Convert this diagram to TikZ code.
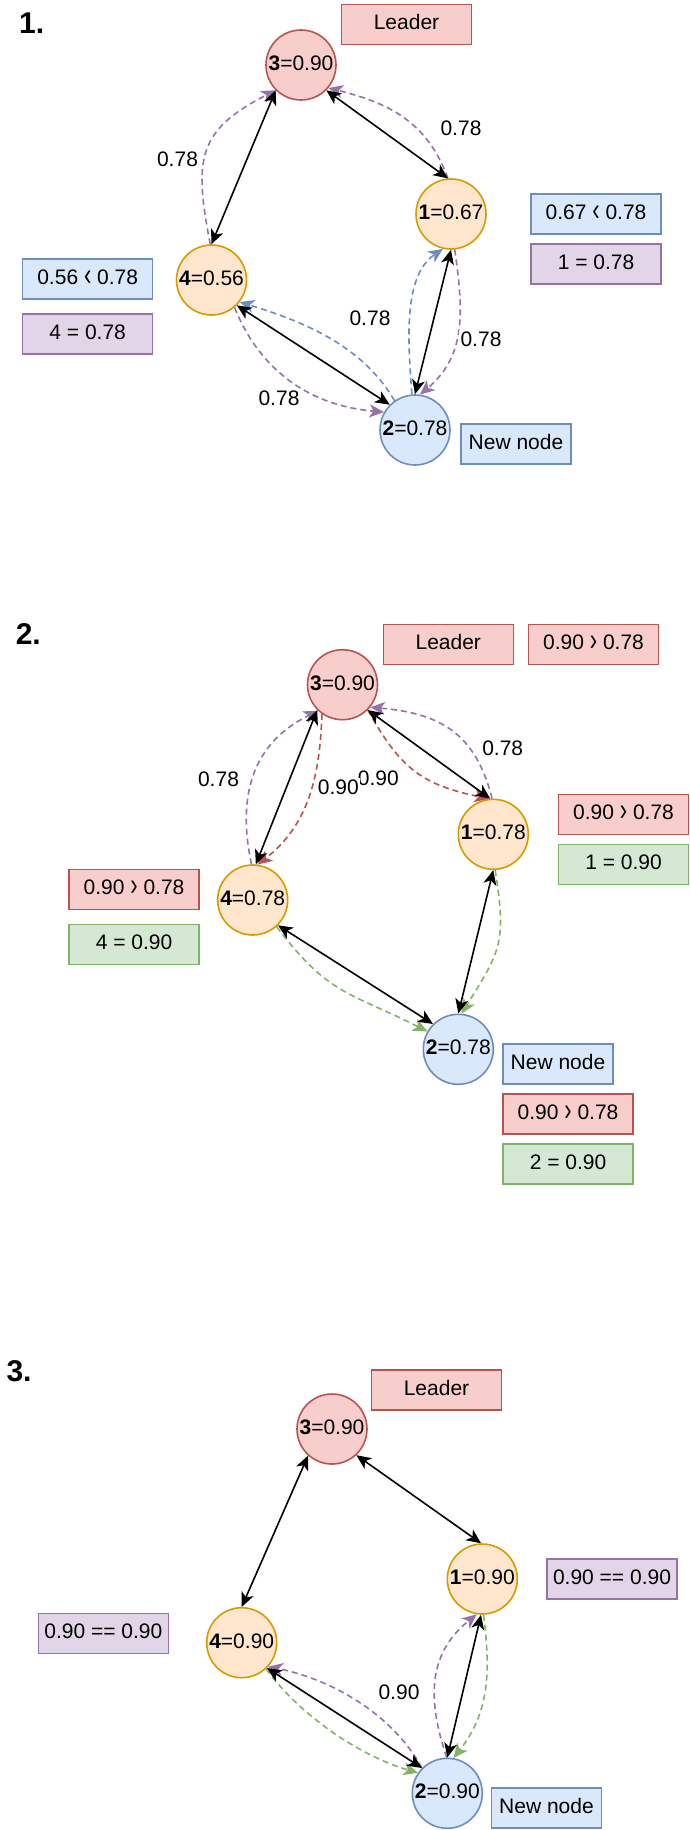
\documentclass[tikz,border=0pt]{standalone}
\usepackage{fontspec}
\setmainfont{Liberation Sans}
\usetikzlibrary{arrows.meta}
\definecolor{redF}{HTML}{F8CECC}\definecolor{redS}{HTML}{B85450}
\definecolor{orF}{HTML}{FFE6CC}\definecolor{orS}{HTML}{D79B00}
\definecolor{blF}{HTML}{DAE8FC}\definecolor{blS}{HTML}{6C8EBF}
\definecolor{puF}{HTML}{E1D5E7}\definecolor{puS}{HTML}{9673A6}
\definecolor{grF}{HTML}{D5E8D4}\definecolor{grS}{HTML}{82B366}
\newcommand{\ltg}{\raisebox{-1.5pt}{\scalebox{1.05}[1.5]{‹}}}
\newcommand{\gtg}{\raisebox{-1.5pt}{\scalebox{1.05}[1.5]{›}}}
\begin{document}
\begin{tikzpicture}[x=1pt,y=1pt,font=\fontsize{21}{25}\selectfont,
  peer/.style={circle,minimum size=70pt,inner sep=0pt,line width=1.6pt,text height=15pt,text depth=4pt},
  rednode/.style={peer,draw=redS,fill=redF},
  ornode/.style={peer,draw=orS,fill=orF},
  bluenode/.style={peer,draw=blS,fill=blF},
  tag/.style={rectangle,minimum width=130pt,minimum height=40pt,inner sep=0pt,line width=1.2pt,text height=15pt,text depth=5pt},
  redtag/.style={tag,draw=redS,fill=redF},
  bluetag/.style={tag,draw=blS,fill=blF},
  purptag/.style={tag,draw=puS,fill=puF},
  greentag/.style={tag,draw=grS,fill=grF},
  newtag/.style={tag,minimum width=110pt,draw=blS,fill=blF},
  lbl/.style={fill=white,inner sep=1.5pt,text height=15pt,text depth=0pt},
  heading/.style={font=\fontsize{30}{36}\selectfont\bfseries,anchor=base west,inner sep=0pt},
  link/.style={line width=1.6pt,{Stealth[length=14.5pt,width=13pt,inset=4pt]}-{Stealth[length=14.5pt,width=13pt,inset=4pt]}},
  msg/.style={line width=1.6pt,dash pattern=on 6pt off 4pt,-{Stealth[length=14.5pt,width=13pt,inset=4pt]}}]
\fill[white] (0,0) rectangle (689,-1830);
\useasboundingbox (0,0) rectangle (689,-1830);

% ---------------- Panel 1 ----------------
\node[heading] (h1) at (19,-33.3) {1.};
\node[rednode] (a3) at (301,-65) {\textbf{3}=0.90};
\node[ornode] (a1) at (451,-214) {\textbf{1}=0.67};
\node[ornode] (a4) at (211.5,-280) {\textbf{4}=0.56};
\node[bluenode] (a2) at (415,-430) {\textbf{2}=0.78};
\node[redtag] (a3t) at (406.5,-24.3) {Leader};
\node[bluetag] (a1c) at (596,-214) {0.67 \ltg{} 0.78};
\node[purptag] (a1v) at (596,-264) {1 = 0.78};
\node[bluetag] (a4c) at (87.7,-279) {0.56 \ltg{} 0.78};
\node[purptag] (a4v) at (87.7,-334) {4 = 0.78};
\node[newtag] (a2t) at (516,-444) {New node};

\draw[msg,puS] (a4.92) to[out=101,in=207,looseness=1.34] (a3.225);
\draw[msg,puS] (a1.95) to[out=110,in=346,looseness=1.04] (a3.320);
\draw[msg,puS] (a1.276) to[out=278,in=40,looseness=1.05] (a2.82);
\draw[msg,puS] (a4.310) to[out=292,in=175,looseness=1.0] (a2.150);
\draw[msg,blS] (a2.95) to[out=94,in=214,looseness=0.85] (a1.257);
\draw[msg,blS] (a2.125) to[out=120,in=343,looseness=0.9] (a4.322);
\draw[link] (a3.315) -- (a1.95);
\draw[link] (a3.225) -- (a4.90);
\draw[link] (a1.270) -- (a2.90);
\draw[link] (a4.315) -- (a2.135);

\node[lbl] (a43l) at (177.5,-159) {0.78};
\node[lbl] (a13l) at (461,-127.7) {0.78};
\node[lbl] (a21l) at (370,-318.3) {0.78};
\node[lbl] (a12l) at (481,-339.3) {0.78};
\node[lbl] (a42l) at (279,-397.7) {0.78};

% ---------------- Panel 2 ----------------
\node[heading] (h2) at (15.6,-644.3) {2.};
\node[rednode] (b3) at (342.5,-684.7) {\textbf{3}=0.90};
\node[ornode] (b1) at (493.3,-834.3) {\textbf{1}=0.78};
\node[ornode] (b4) at (252.7,-900) {\textbf{4}=0.78};
\node[bluenode] (b2) at (458.3,-1049.3) {\textbf{2}=0.78};
\node[redtag] (b3t) at (448.3,-644.3) {Leader};
\node[redtag] (b3c) at (593.5,-644.3) {0.90 \gtg{} 0.78};
\node[redtag] (b1c) at (623.5,-814.3) {0.90 \gtg{} 0.78};
\node[greentag] (b1v) at (623.5,-864.3) {1 = 0.90};
\node[redtag] (b4c) at (134,-889.3) {0.90 \gtg{} 0.78};
\node[greentag] (b4v) at (134,-944.3) {4 = 0.90};
\node[newtag] (b2t) at (558,-1064) {New node};
\node[redtag] (b2c) at (568,-1114) {0.90 \gtg{} 0.78};
\node[greentag] (b2v) at (568,-1164) {2 = 0.90};

\draw[msg,puS] (b4.92) to[out=102,in=206,looseness=1.10] (b3.227);
\draw[msg,puS] (b1.92) to[out=104,in=355,looseness=1.15] (b3.321);
\draw[msg,redS] (b3.235) to[out=268,in=38,looseness=1.0] (b4.82);
\draw[msg,redS] (b3.315) to[out=299,in=168,looseness=1.16] (b1.97);
\draw[msg,grS] (b1.273) to[out=279,in=58,looseness=1.28] (b2.85);
\draw[msg,grS] (b4.312) to[out=307,in=153,looseness=1.21] (b2.150);
\draw[link] (b3.225) -- (b4.85);
\draw[link] (b3.315) -- (b1.95);
\draw[link] (b1.270) -- (b2.90);
\draw[link] (b4.315) -- (b2.135);

\node[lbl] (b43l) at (218.5,-779) {0.78};
\node[lbl] (b13l) at (502.7,-748.3) {0.78};
\node[lbl] (b31l) at (378.3,-778) {0.90};
\node[lbl] (b34l) at (338.3,-786.7) {0.90};

% ---------------- Panel 3 ----------------
\node[heading] (h3) at (6.3,-1381) {3.};
\node[rednode] (c3) at (332,-1429) {\textbf{3}=0.90};
\node[ornode] (c1) at (482.3,-1579) {\textbf{1}=0.90};
\node[ornode] (c4) at (241.7,-1642.7) {\textbf{4}=0.90};
\node[bluenode] (c2) at (447.3,-1793.3) {\textbf{2}=0.90};
\node[redtag] (c3t) at (436.5,-1390) {Leader};
\node[purptag] (c1c) at (612,-1579) {0.90 == 0.90};
\node[purptag] (c4c) at (103.3,-1633.5) {0.90 == 0.90};
\node[newtag] (c2t) at (546.5,-1808) {New node};

\draw[msg,puS] (c2.91) to[out=108.5,in=218.7,looseness=1.09] (c1.261);
\draw[msg,puS] (c2.135) to[out=118.6,in=348.8,looseness=0.87] (c4.318);
\draw[msg,grS] (c1.272) to[out=277,in=52,looseness=1.02] (c2.80);
\draw[msg,grS] (c4.313) to[out=306,in=164,looseness=0.82] (c2.145);
\draw[link] (c3.228) -- (c4.90);
\draw[link] (c3.313) -- (c1.92);
\draw[link] (c1.268) -- (c2.90);
\draw[link] (c4.315) -- (c2.135);

\node[lbl] (c24l) at (399,-1691.7) {0.90};
\end{tikzpicture}
\end{document}
